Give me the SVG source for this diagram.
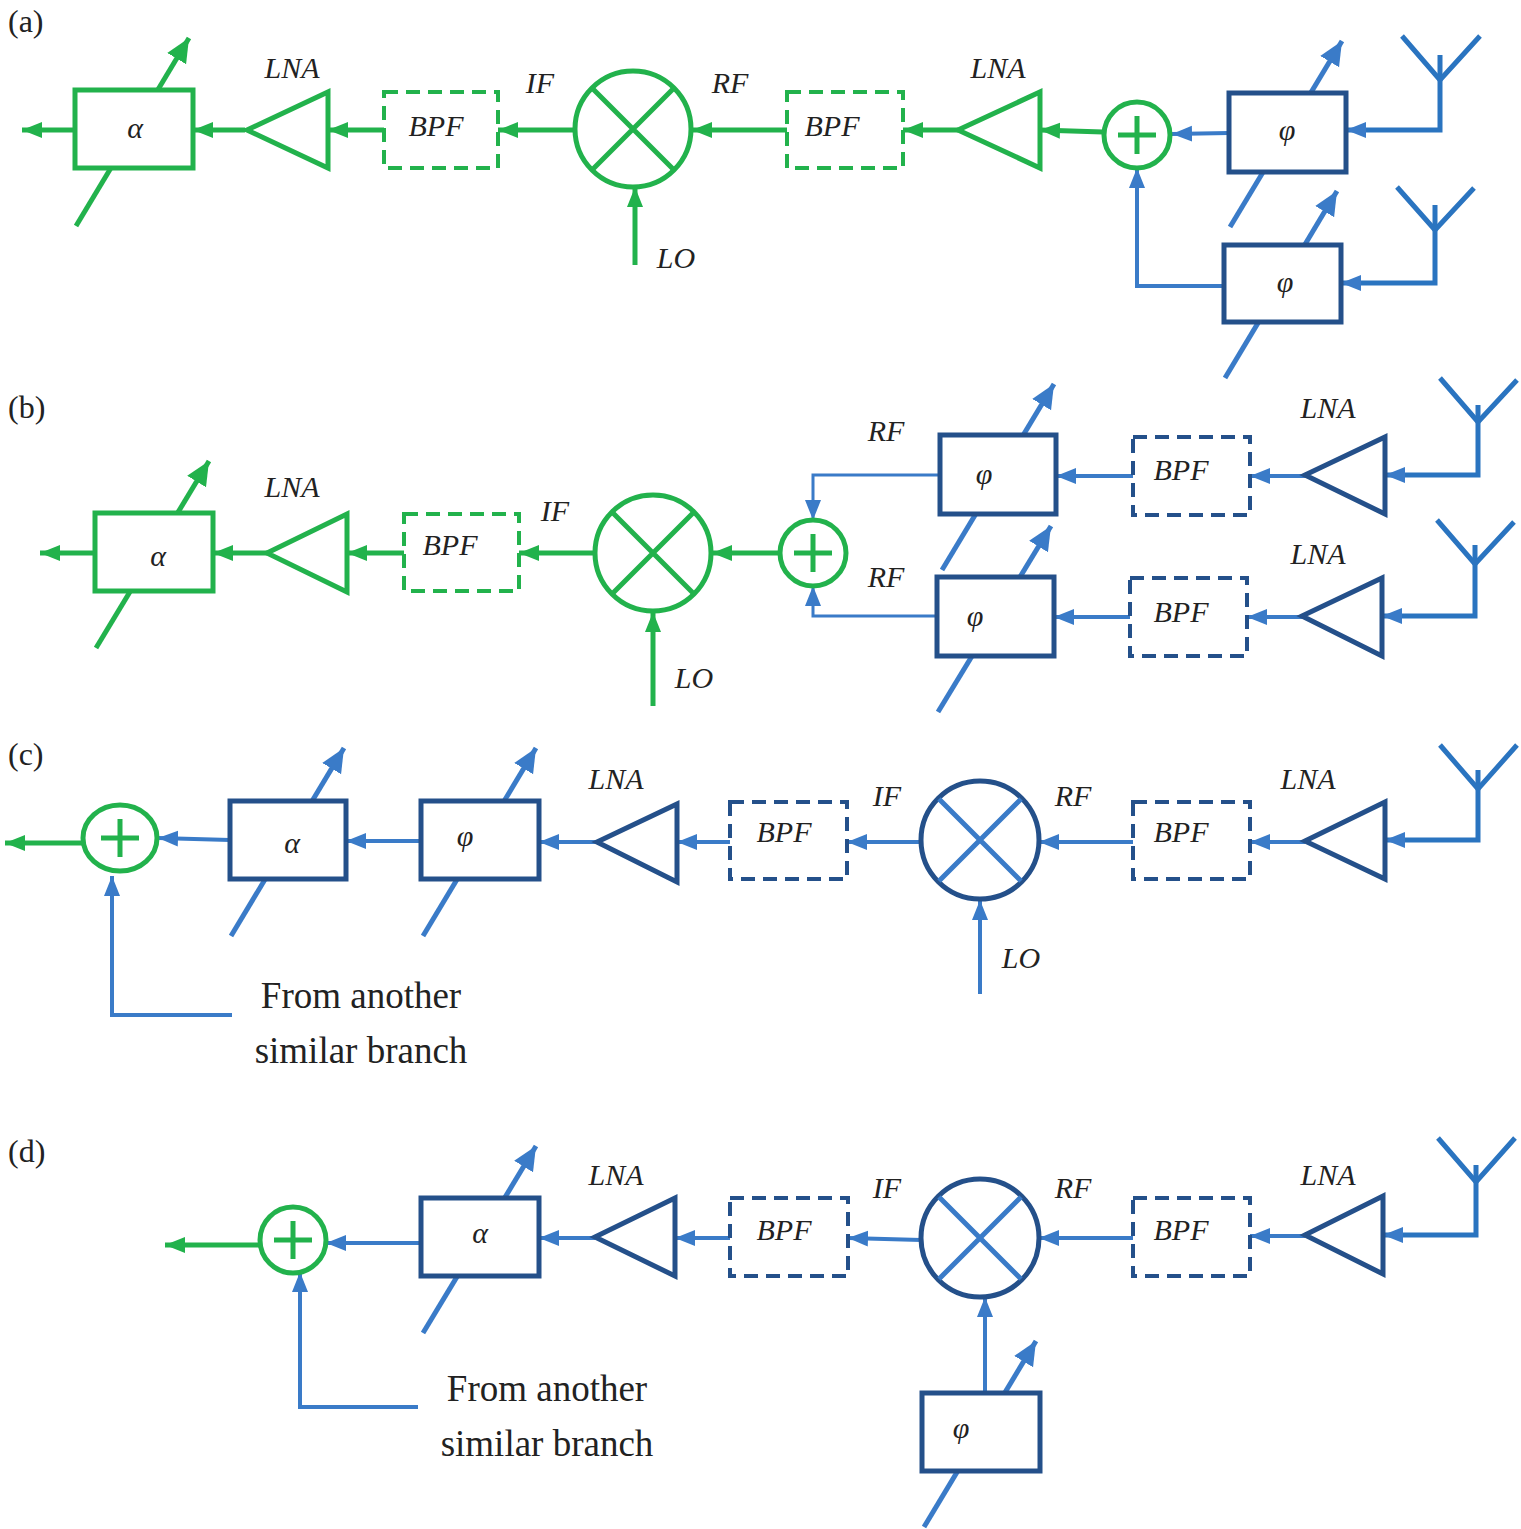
<svg xmlns="http://www.w3.org/2000/svg" width="1521" height="1529" viewBox="0 0 1521 1529">
<defs>
<marker id="ag" markerUnits="userSpaceOnUse" markerWidth="22" markerHeight="18" refX="20" refY="8" orient="auto"><path d="M0,0 L20,8 L0,16 z" fill="#22b24c"/></marker>
<marker id="ab" markerUnits="userSpaceOnUse" markerWidth="22" markerHeight="18" refX="20" refY="8" orient="auto"><path d="M0,0 L20,8 L0,16 z" fill="#3a7bc8"/></marker>
<marker id="vg" markerUnits="userSpaceOnUse" markerWidth="30" markerHeight="30" refX="24" refY="11" orient="auto"><path d="M0,0 L24,11 L0,22 z" fill="#22b24c"/></marker>
<marker id="vb" markerUnits="userSpaceOnUse" markerWidth="30" markerHeight="30" refX="24" refY="11" orient="auto"><path d="M0,0 L24,11 L0,22 z" fill="#3a7bc8"/></marker>
</defs>
<style>
.g{stroke:#22b24c;fill:none;stroke-width:5}
.gb{stroke:#22b24c;fill:#fff;stroke-width:5}
.gd{stroke:#22b24c;fill:#fff;stroke-width:4;stroke-dasharray:14 8}
.bl{stroke:#3a7bc8;fill:none;stroke-width:4}
.bv{stroke:#3a7bc8;fill:none;stroke-width:5}
.db{stroke:#24508a;fill:#fff;stroke-width:5}
.dd{stroke:#24508a;fill:#fff;stroke-width:4;stroke-dasharray:14 8}
.an{stroke:#2a74c0;fill:none;stroke-width:5}
.t{font-family:"Liberation Serif",serif;font-style:italic;font-size:30px;text-anchor:middle;fill:#222}
.p{font-family:"Liberation Serif",serif;font-size:32px;fill:#222}
.n{font-family:"Liberation Serif",serif;font-size:37px;text-anchor:middle;fill:#222}
</style>
<rect width="1521" height="1529" fill="#fff"/>
<g id="connectors">
<line class="g" x1="75" y1="130" x2="22" y2="130" marker-end="url(#ag)"/>
<line class="g" x1="245" y1="130" x2="193" y2="130" marker-end="url(#ag)"/>
<line class="g" x1="385" y1="130" x2="328" y2="130" marker-end="url(#ag)"/>
<line class="g" x1="575" y1="130" x2="498" y2="130" marker-end="url(#ag)"/>
<line class="g" x1="635" y1="265" x2="635" y2="187" marker-end="url(#ag)"/>
<line class="g" x1="787" y1="130" x2="692" y2="130" marker-end="url(#ag)"/>
<line class="g" x1="958" y1="130" x2="903" y2="130" marker-end="url(#ag)"/>
<line class="g" x1="1103" y1="132" x2="1040" y2="130" marker-end="url(#ag)"/>
<line class="bl" x1="1229" y1="133" x2="1172" y2="134" marker-end="url(#ab)"/>
<polyline class="an" points="1440,55 1440,130 1346,130" marker-end="url(#ab)"/>
<polyline class="an" points="1402,36 1440,80 1480,36"/>
<polyline class="an" points="1435,205 1435,283 1341,283" marker-end="url(#ab)"/>
<polyline class="an" points="1397,187 1435,230 1474,188"/>
<polyline class="bl" points="1224,286 1137,286 1137,168" marker-end="url(#ab)"/>
<line class="g" x1="95" y1="553" x2="40" y2="553" marker-end="url(#ag)"/>
<line class="g" x1="267" y1="553" x2="213" y2="553" marker-end="url(#ag)"/>
<line class="g" x1="404" y1="553" x2="347" y2="553" marker-end="url(#ag)"/>
<line class="g" x1="595" y1="553" x2="519" y2="553" marker-end="url(#ag)"/>
<line class="g" x1="653" y1="706" x2="653" y2="612" marker-end="url(#ag)"/>
<line class="g" x1="780" y1="553" x2="712" y2="553" marker-end="url(#ag)"/>
<polyline class="bl" style="stroke-width:3" points="940,475 813,475 813,520" marker-end="url(#ab)"/>
<polyline class="bl" style="stroke-width:3" points="937,616 813,616 813,586" marker-end="url(#ab)"/>
<line class="bl" x1="1133" y1="476" x2="1056" y2="476" marker-end="url(#ab)"/>
<line class="bl" x1="1305" y1="476" x2="1250" y2="476" marker-end="url(#ab)"/>
<polyline class="an" points="1478,405 1478,475 1385,475" marker-end="url(#ab)"/>
<polyline class="an" points="1440,378 1478,422 1517,380"/>
<line class="bl" x1="1130" y1="617" x2="1054" y2="617" marker-end="url(#ab)"/>
<line class="bl" x1="1302" y1="617" x2="1247" y2="617" marker-end="url(#ab)"/>
<polyline class="an" points="1475,545 1475,616 1382,616" marker-end="url(#ab)"/>
<polyline class="an" points="1437,520 1475,564 1514,522"/>
<line class="g" x1="83" y1="843" x2="5" y2="843" marker-end="url(#ag)"/>
<line class="bl" x1="230" y1="840" x2="158" y2="838" marker-end="url(#ab)"/>
<line class="bl" x1="421" y1="841" x2="346" y2="841" marker-end="url(#ab)"/>
<line class="bl" x1="597" y1="842" x2="539" y2="842" marker-end="url(#ab)"/>
<line class="bl" x1="730" y1="842" x2="677" y2="842" marker-end="url(#ab)"/>
<line class="bl" x1="921" y1="842" x2="847" y2="842" marker-end="url(#ab)"/>
<line class="bl" x1="980" y1="994" x2="980" y2="900" marker-end="url(#ab)"/>
<line class="bl" x1="1133" y1="842" x2="1039" y2="842" marker-end="url(#ab)"/>
<line class="bl" x1="1305" y1="842" x2="1250" y2="842" marker-end="url(#ab)"/>
<polyline class="an" points="1478,770 1478,840 1385,840" marker-end="url(#ab)"/>
<polyline class="an" points="1440,745 1478,789 1517,745"/>
<polyline class="bl" points="232,1015 112,1015 112,876" marker-end="url(#ab)"/>
<line class="g" x1="260" y1="1245" x2="165" y2="1245" marker-end="url(#ag)"/>
<line class="bl" x1="421" y1="1243" x2="326" y2="1243" marker-end="url(#ab)"/>
<line class="bl" x1="595" y1="1238" x2="539" y2="1238" marker-end="url(#ab)"/>
<line class="bl" x1="730" y1="1238" x2="675" y2="1238" marker-end="url(#ab)"/>
<line class="bl" x1="921" y1="1240" x2="848" y2="1238" marker-end="url(#ab)"/>
<line class="bl" x1="1133" y1="1238" x2="1039" y2="1238" marker-end="url(#ab)"/>
<line class="bl" x1="1305" y1="1236" x2="1250" y2="1236" marker-end="url(#ab)"/>
<polyline class="an" points="1476,1165 1476,1235 1383,1235" marker-end="url(#ab)"/>
<polyline class="an" points="1438,1138 1476,1182 1515,1138"/>
<line class="bl" x1="985" y1="1393" x2="985" y2="1297" marker-end="url(#ab)"/>
<polyline class="bl" points="418,1407 300,1407 300,1272" marker-end="url(#ab)"/>
<line class="g" x1="76" y1="226" x2="189" y2="38" marker-end="url(#vg)"/>
<line class="bv" x1="1230" y1="227" x2="1342" y2="41" marker-end="url(#vb)"/>
<line class="bv" x1="1225" y1="378" x2="1337" y2="191" marker-end="url(#vb)"/>
<line class="g" x1="96" y1="648" x2="209" y2="461" marker-end="url(#vg)"/>
<line class="bv" x1="942" y1="570" x2="1054" y2="384" marker-end="url(#vb)"/>
<line class="bv" x1="938" y1="712" x2="1051" y2="526" marker-end="url(#vb)"/>
<line class="bv" x1="231" y1="936" x2="344" y2="748" marker-end="url(#vb)"/>
<line class="bv" x1="423" y1="936" x2="536" y2="748" marker-end="url(#vb)"/>
<line class="bv" x1="423" y1="1333" x2="536" y2="1146" marker-end="url(#vb)"/>
<line class="bv" x1="924" y1="1527" x2="1036" y2="1341" marker-end="url(#vb)"/>
</g>
<g id="panel-a">
<rect class="gb" x="75" y="90" width="118" height="78"/>
<polygon class="gb" points="247,130 328,92 328,168"/>
<rect class="gd" x="384" y="92" width="114" height="76"/>
<g id="mixa"><circle class="gb" cx="633" cy="129" r="58"/><path class="g" d="M592,88 L674,170 M674,88 L592,170"/></g>
<rect class="gd" x="787" y="92" width="116" height="76"/>
<polygon class="gb" points="958,130 1040,92 1040,168"/>
<g id="suma"><circle class="gb" cx="1137" cy="135" r="33"/><path class="g" d="M1137,116 V154 M1118,135 H1156"/></g>
<rect class="db" x="1229" y="93" width="117" height="79"/>
<rect class="db" x="1224" y="245" width="117" height="77"/>
</g>
<g id="panel-b">
<rect class="gb" x="95" y="513" width="118" height="78"/>
<polygon class="gb" points="267,553 347,514 347,592"/>
<rect class="gd" x="404" y="514" width="115" height="77"/>
<circle class="gb" cx="653" cy="553" r="58"/><path class="g" d="M612,512 L694,594 M694,512 L612,594"/>
<circle class="gb" cx="813" cy="553" r="33"/><path class="g" d="M813,534 V572 M794,553 H832"/>
<rect class="db" x="940" y="435" width="116" height="79"/>
<rect class="db" x="937" y="577" width="117" height="79"/>
<rect class="dd" x="1133" y="437" width="117" height="78"/>
<polygon class="db" points="1305,475 1385,437 1385,514"/>
<rect class="dd" x="1130" y="578" width="117" height="78"/>
<polygon class="db" points="1302,616 1382,578 1382,656"/>
</g>
<g id="panel-c">
<ellipse class="gb" cx="120" cy="838" rx="37" ry="33"/><path class="g" d="M120,819 V857 M101,838 H139"/>
<rect class="db" x="230" y="801" width="116" height="78"/>
<rect class="db" x="421" y="801" width="118" height="78"/>
<polygon class="db" points="597,842 677,804 677,882"/>
<rect class="dd" x="730" y="802" width="117" height="77"/>
<circle class="db" cx="980" cy="840" r="59"/><path class="db" style="fill:none;stroke:#3a7bc8" d="M939,799 L1021,881 M1021,799 L939,881"/>
<rect class="dd" x="1133" y="802" width="117" height="77"/>
<polygon class="db" points="1305,841 1385,802 1385,879"/>
</g>
<g id="panel-d">
<circle class="gb" cx="293" cy="1240" r="33"/><path class="g" d="M293,1221 V1259 M274,1240 H312"/>
<rect class="db" x="421" y="1198" width="118" height="78"/>
<polygon class="db" points="595,1237 675,1198 675,1276"/>
<rect class="dd" x="730" y="1198" width="118" height="78"/>
<circle class="db" cx="980" cy="1238" r="59"/><path class="db" style="fill:none;stroke:#3a7bc8" d="M939,1197 L1021,1279 M1021,1197 L939,1279"/>
<rect class="dd" x="1133" y="1198" width="117" height="78"/>
<polygon class="db" points="1305,1235 1383,1196 1383,1274"/>
<rect class="db" x="922" y="1393" width="118" height="78"/>
</g>
<g id="labels">
<text class="p" x="8" y="32">(a)</text>
<text class="p" x="8" y="418">(b)</text>
<text class="p" x="8" y="765">(c)</text>
<text class="p" x="8" y="1162">(d)</text>
<text class="t" x="135" y="138">α</text>
<text class="t" x="292" y="78">LNA</text>
<text class="t" x="436" y="136">BPF</text>
<text class="t" x="540" y="93">IF</text>
<text class="t" x="730" y="93">RF</text>
<text class="t" x="676" y="268">LO</text>
<text class="t" x="832" y="136">BPF</text>
<text class="t" x="998" y="78">LNA</text>
<text class="t" x="1287" y="140">φ</text>
<text class="t" x="1285" y="292">φ</text>
<text class="t" x="158" y="566">α</text>
<text class="t" x="292" y="497">LNA</text>
<text class="t" x="450" y="555">BPF</text>
<text class="t" x="555" y="521">IF</text>
<text class="t" x="694" y="688">LO</text>
<text class="t" x="886" y="441">RF</text>
<text class="t" x="886" y="587">RF</text>
<text class="t" x="984" y="484">φ</text>
<text class="t" x="975" y="626">φ</text>
<text class="t" x="1181" y="480">BPF</text>
<text class="t" x="1181" y="622">BPF</text>
<text class="t" x="1328" y="418">LNA</text>
<text class="t" x="1318" y="564">LNA</text>
<text class="t" x="292" y="853">α</text>
<text class="t" x="465" y="846">φ</text>
<text class="t" x="616" y="789">LNA</text>
<text class="t" x="784" y="842">BPF</text>
<text class="t" x="887" y="806">IF</text>
<text class="t" x="1073" y="806">RF</text>
<text class="t" x="1021" y="968">LO</text>
<text class="t" x="1181" y="842">BPF</text>
<text class="t" x="1308" y="789">LNA</text>
<text class="n" x="361" y="1008">From another</text>
<text class="n" x="361" y="1063">similar branch</text>
<text class="t" x="480" y="1243">α</text>
<text class="t" x="616" y="1185">LNA</text>
<text class="t" x="784" y="1240">BPF</text>
<text class="t" x="887" y="1198">IF</text>
<text class="t" x="1073" y="1198">RF</text>
<text class="t" x="1181" y="1240">BPF</text>
<text class="t" x="1328" y="1185">LNA</text>
<text class="t" x="961" y="1438">φ</text>
<text class="n" x="547" y="1401">From another</text>
<text class="n" x="547" y="1456">similar branch</text>
</g>
</svg>
